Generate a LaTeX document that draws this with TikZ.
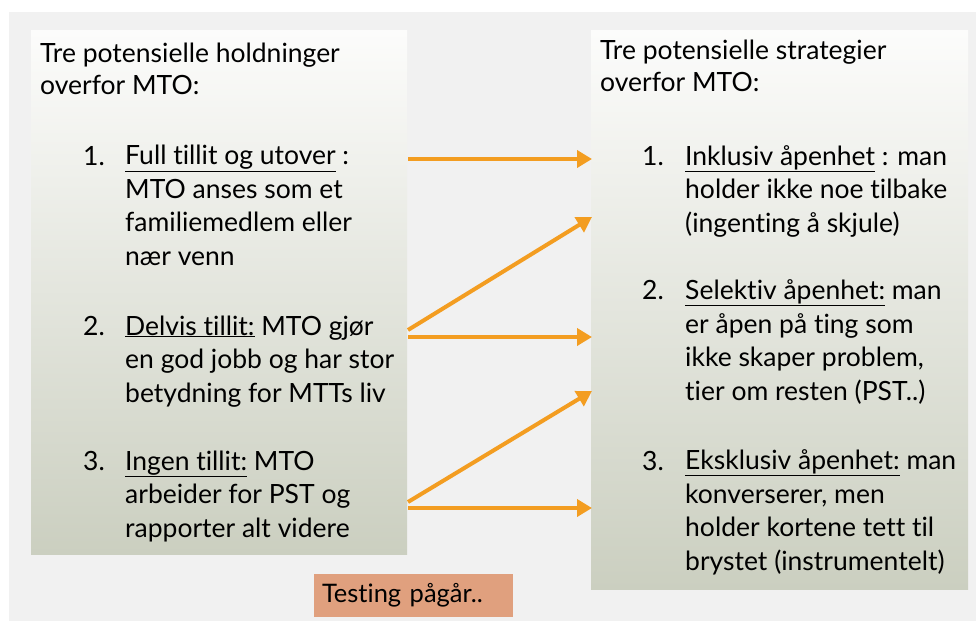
\documentclass[tikz,border=0pt]{standalone}
\usepackage{fontspec}
\setmainfont{Lato}[Ligatures={NoCommon}]
\usetikzlibrary{arrows.meta}

\definecolor{slidegray}{RGB}{241,241,241}
\definecolor{boxtop}{RGB}{252,252,251}
\definecolor{boxmid}{RGB}{242,242,239}
\definecolor{boxbottom}{RGB}{203,207,192}
\definecolor{linkorange}{RGB}{243,157,33}
\definecolor{testsalmon}{RGB}{224,160,126}

\tikzset{
  panel/.style={top color=boxtop, middle color=boxmid, bottom color=boxbottom, draw=none},
  txt/.style={anchor=base west, inner sep=0pt, align=left,
    font=\fontsize{26.5}{33.5}\selectfont},
  link/.style={linkorange, line width=4pt, -{Triangle[length=15pt,width=17pt]}}
}

\begin{document}
\begin{tikzpicture}[x=1pt, y=-1pt]
  \useasboundingbox (0,0) rectangle (976,623);
  \fill[slidegray] (9,12) rectangle (976,621);

  % the two panels
  \shade[panel] (31,31) rectangle (407,554);
  \shade[panel] (591,31) rectangle (968,589);

  % left: holdninger (nodes sit on the baseline of their last line)
  \node[txt, font=\fontsize{26.5}{32}\selectfont] (ltitle) at (40,95) {Tre potensielle holdninger\\overfor MTO:};
  \node[txt] (lnum1) at (83,165) {1.};
  \node[txt] (litem1) at (125,265) {\underline{Full tillit og utover} :\\MTO anses som et\\familiemedlem eller\\nær venn};
  \node[txt] (lnum2) at (83,335) {2.};
  \node[txt] (litem2) at (125,402) {\underline{Delvis tillit:} MTO gjør\\en god jobb og har stor\\betydning for MTTs liv};
  \node[txt] (lnum3) at (83,470) {3.};
  \node[txt] (litem3) at (125,537) {\underline{Ingen tillit:} MTO\\arbeider for PST og\\rapporter alt videre};

  % right: strategier
  \node[txt, font=\fontsize{26.5}{32}\selectfont] (rtitle) at (600,92) {Tre potensielle strategier\\overfor MTO:};
  \node[txt] (rnum1) at (642,165) {1.};
  \node[txt] (ritem1) at (685,232) {\underline{Inklusiv åpenhet} : man\\holder ikke noe tilbake\\(ingenting å skjule)};
  \node[txt] (rnum2) at (642,299) {2.};
  \node[txt] (ritem2) at (685,400) {\underline{Selektiv åpenhet:} man\\er åpen på ting som\\ikke skaper problem,\\tier om resten (PST..)};
  \node[txt] (rnum3) at (642,470) {3.};
  \node[txt] (ritem3) at (685,570) {\underline{Eksklusiv åpenhet:} man\\konverserer, men\\holder kortene tett til\\brystet (instrumentelt)};

  \node[fill=testsalmon, minimum width=199pt, minimum height=43pt, inner sep=8pt,
    text width=183pt, align=left, font=\fontsize{25.5}{28}\selectfont] (testing) at (413.5,595.5) {Testing pågår..};

  % arrows between the panels
  \coordinate (a1) at (408,159);
  \coordinate (b1) at (592,159);
  \coordinate (a2) at (408,330);
  \coordinate (b2) at (592,217);
  \coordinate (a3) at (408,337);
  \coordinate (b3) at (592,337);
  \coordinate (a4) at (408,502);
  \coordinate (b4) at (592,391);
  \coordinate (a5) at (408,508);
  \coordinate (b5) at (592,508);
  \foreach \i in {1,...,5}
    \draw[link] (a\i) -- (b\i);
\end{tikzpicture}
\end{document}
